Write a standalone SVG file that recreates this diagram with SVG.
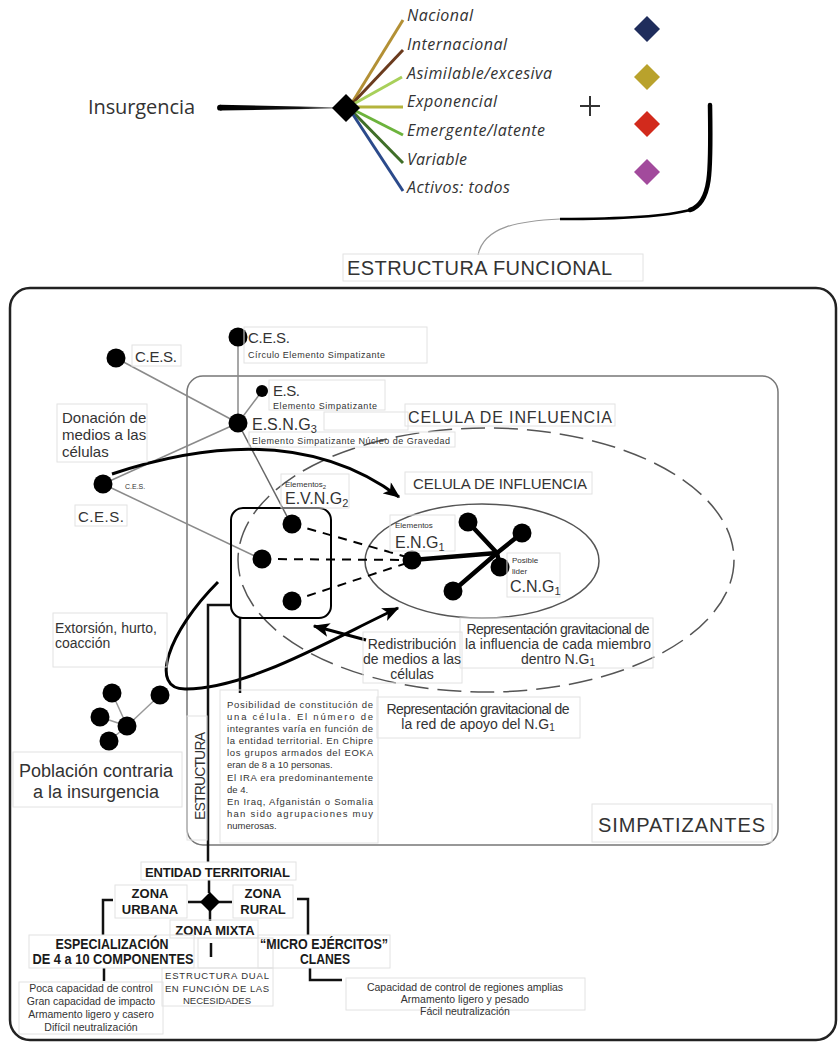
<svg xmlns="http://www.w3.org/2000/svg" width="838" height="1050" viewBox="0 0 838 1050">
<defs>
<style>
.t{font-family:"Liberation Sans",Arial,sans-serif;fill:#333}
.tb{font-family:"Liberation Sans",Arial,sans-serif;font-weight:bold;fill:#1a1a1a}
.it{font-family:"Open Sans","Liberation Sans",sans-serif;font-style:italic;fill:#333;font-size:16px}
.lb{fill:none;stroke:#e2e2e2;stroke-width:1}
.gl{stroke:#8a8a8a;stroke-width:1.5;fill:none}
.bk{stroke:#000;fill:none;stroke-linecap:round}
.br{stroke:#111;stroke-width:2.5;fill:none}
</style>
<marker id="ah" viewBox="0 0 12 10" refX="11" refY="5" markerWidth="17" markerHeight="14" markerUnits="userSpaceOnUse" orient="auto"><path d="M0,0 L12,5 L0,10 L3,5 Z" fill="#000"/></marker>
<linearGradient id="ig" x1="218" y1="0" x2="334" y2="0" gradientUnits="userSpaceOnUse"><stop offset="0" stop-color="#000"/><stop offset="0.7" stop-color="#111"/><stop offset="1" stop-color="#888"/></linearGradient>
</defs>
<rect width="838" height="1050" fill="#fff"/>

<!-- top section -->
<g id="insurgencia">
<text class="t" x="88" y="114" font-family="Open Sans,Liberation Sans,sans-serif" style="font-family:'Open Sans','Liberation Sans',sans-serif" font-size="20" textLength="107">Insurgencia</text>
<polygon points="220,104.8 333,107.2 333,108.4 220,110.6" fill="url(#ig)"/>
<circle cx="220" cy="107.7" r="2.9" fill="#000"/>
</g>
<g id="ramas">
<line x1="350" y1="106" x2="403" y2="20" stroke="#b39035" stroke-width="3"/>
<line x1="350" y1="106" x2="403" y2="50" stroke="#6b3b1e" stroke-width="3"/>
<line x1="350" y1="106" x2="402" y2="77" stroke="#a8d05a" stroke-width="3"/>
<line x1="350" y1="107" x2="403" y2="107" stroke="#b4b43c" stroke-width="3"/>
<line x1="350" y1="108" x2="403" y2="135" stroke="#6cb33c" stroke-width="3"/>
<line x1="350" y1="109" x2="403" y2="163" stroke="#3f6e28" stroke-width="3"/>
<line x1="350" y1="110" x2="403" y2="191" stroke="#2b4a8b" stroke-width="3"/>
<polygon points="346,94 360,108 346,122 332,108" fill="#000"/>
<text class="it" x="407" y="21" textLength="66">Nacional</text>
<text class="it" x="407" y="50" textLength="100">Internacional</text>
<text class="it" x="407" y="79" textLength="145">Asimilable/excesiva</text>
<text class="it" x="407" y="107" textLength="90">Exponencial</text>
<text class="it" x="407" y="136" textLength="138">Emergente/latente</text>
<text class="it" x="407" y="165" textLength="60">Variable</text>
<text class="it" x="407" y="193" textLength="103">Activos: todos</text>
</g>
<g id="mas">
<line x1="580" y1="106" x2="600" y2="106" stroke="#333" stroke-width="2"/>
<line x1="590" y1="96" x2="590" y2="116" stroke="#333" stroke-width="2"/>
</g>
<g id="rombos">
<polygon points="647,16 660,29 647,42 634,29" fill="#1f2d5c"/>
<polygon points="647,64 660,77 647,90 634,77" fill="#b9a22c"/>
<polygon points="647,111 660,124 647,137 634,124" fill="#d22a1c"/>
<polygon points="647,159 660,172 647,185 634,172" fill="#a24a9c"/>
</g>
<g id="llave">
<path d="M710,105 C711,170 712,203 690,210" stroke="#000" stroke-width="4.5" fill="none" stroke-linecap="round"/>
<path d="M690,210 C660,218 600,219 560,219" stroke="#000" stroke-width="2.5" fill="none"/>
<path d="M560,219 C520,221 484,226 478,255" stroke="#999" stroke-width="1.2" fill="none"/>
</g>
<g id="estructura-funcional">
<rect class="lb" x="343" y="254" width="300" height="27"/>
<text class="t" x="347" y="275" font-size="20" textLength="265" fill="#222">ESTRUCTURA FUNCIONAL</text>
</g>

<!-- frames -->
<g id="marco">
<rect x="10" y="288" width="826" height="752" rx="20" fill="none" stroke="#222" stroke-width="2.5"/>
</g>
<g id="simpatizantes">
<rect x="187" y="376" width="591" height="469" rx="16" fill="none" stroke="#777" stroke-width="1.5"/>
<rect class="lb" x="592" y="804" width="180" height="38"/>
<text class="t" x="598" y="832" font-size="20" textLength="167" fill="#222">SIMPATIZANTES</text>
</g>
<g id="celula-externa">
<ellipse cx="486" cy="560" rx="248" ry="132" fill="none" stroke="#555" stroke-width="1.5" stroke-dasharray="24,9"/>
<rect class="lb" x="405" y="404" width="210" height="22"/>
<text class="t" x="408" y="423" font-size="16" textLength="204">CELULA DE INFLUENCIA</text>
</g>
<g id="celula-interna">
<ellipse cx="482" cy="561" rx="117" ry="57" fill="none" stroke="#555" stroke-width="1.5"/>
<rect class="lb" x="405" y="472" width="187" height="22"/>
<text class="t" x="413" y="489" font-size="15" textLength="174">CELULA DE INFLUENCIA</text>
</g>

<!-- connectors -->
<g id="conectores">
<line class="gl" x1="238" y1="337" x2="238" y2="423"/>
<line class="gl" x1="116" y1="358" x2="238" y2="423"/>
<line class="gl" x1="262" y1="391" x2="238" y2="423"/>
<line class="gl" x1="238" y1="423" x2="103" y2="484"/>
<line x1="238" y1="423" x2="291" y2="524" stroke="#666" stroke-width="1.5"/>
<line class="gl" x1="103" y1="484" x2="261" y2="559" stroke="#999"/>
<g stroke="#000" stroke-width="2" stroke-dasharray="9,7" fill="none">
<line x1="292" y1="524" x2="410" y2="558"/>
<line x1="262" y1="559" x2="410" y2="560"/>
<line x1="292" y1="601" x2="410" y2="562"/>
</g>
<g stroke="#000" stroke-width="4.5" stroke-linecap="round">
<line x1="497" y1="553" x2="412" y2="560"/>
<line x1="497" y1="553" x2="468" y2="522"/>
<line x1="497" y1="553" x2="522" y2="533"/>
<line x1="497" y1="553" x2="453" y2="591"/>
<line x1="497" y1="553" x2="500" y2="567"/>
</g>
<path d="M112,474 Q290,415 399,497" stroke="#000" stroke-width="3" fill="none" marker-end="url(#ah)"/>
<path d="M218,582 C168,632 148,690 186,689 C250,688 330,640 398,608" stroke="#000" stroke-width="3" fill="none" marker-end="url(#ah)"/>
<path d="M366,640 L314,626" stroke="#000" stroke-width="3" fill="none" marker-end="url(#ah)"/>
<g stroke="#999" stroke-width="1.5">
<line x1="127" y1="726" x2="112" y2="693"/>
<line x1="127" y1="726" x2="160" y2="695"/>
<line x1="127" y1="726" x2="100" y2="717"/>
<line x1="127" y1="726" x2="109" y2="741"/>
</g>
<polyline class="br" stroke-width="2" points="230,605 208,605 208,862"/>
<line class="br" stroke-width="2" x1="240" y1="618" x2="240" y2="693"/>
<line class="br" x1="209" y1="880" x2="209" y2="893"/>
<line class="br" x1="188" y1="902" x2="232" y2="902"/>
<line class="br" x1="210" y1="910" x2="210" y2="921"/>
<polyline class="br" points="113,900 103,900 103,935"/>
<polyline class="br" points="297,899 308,899 308,935"/>
<line class="br" x1="104" y1="968" x2="104" y2="981"/>
<line class="br" x1="211" y1="943" x2="211" y2="957"/>
<polyline class="br" points="310,968 310,980 342,980"/>
</g>

<!-- nodes -->
<g id="ces-top">
<circle cx="238" cy="337" r="9.5" fill="#000"/>
<rect class="lb" x="244" y="327" width="183" height="36"/>
<text class="t" x="248" y="343" font-size="15" textLength="42">C.E.S.</text>
<text class="t" x="248" y="358" font-size="9" textLength="137" fill="#222">Círculo Elemento Simpatizante</text>
</g>
<g id="ces-left">
<circle cx="116" cy="358" r="9.5" fill="#000"/>
<rect class="lb" x="132" y="345" width="49" height="21"/>
<text class="t" x="135" y="362" font-size="15" textLength="42">C.E.S.</text>
</g>
<g id="es">
<circle cx="262" cy="391" r="6" fill="#000"/>
<rect class="lb" x="269" y="380" width="116" height="30"/>
<text class="t" x="273" y="396" font-size="15" textLength="27">E.S.</text>
<text class="t" x="273" y="409" font-size="9" textLength="104" fill="#222">Elemento Simpatizante</text>
</g>
<g id="esng3">
<circle cx="238" cy="423" r="9.5" fill="#000"/>
<rect class="lb" x="324" y="412" width="84" height="18"/>
<rect class="lb" x="249" y="432" width="206" height="15"/>
<text class="t" x="252" y="430" font-size="16">E.S.N.G<tspan font-size="11" dy="3">3</tspan></text>
<text class="t" x="252" y="444" font-size="9" textLength="198" fill="#222">Elemento Simpatizante Núcleo de Gravedad</text>
</g>
<g id="donacion">
<rect class="lb" x="57" y="404" width="90" height="58"/>
<text class="t" font-size="15"><tspan x="62" y="423">Donación de</tspan><tspan x="62" y="440">medios a las</tspan><tspan x="62" y="457">células</tspan></text>
</g>
<g id="ces-lower">
<circle cx="103" cy="484" r="9.5" fill="#000"/>
<text class="t" x="125" y="489" font-size="7">C.E.S.</text>
<rect class="lb" x="75" y="505" width="52" height="21"/>
<text class="t" x="78" y="522" font-size="15" textLength="46">C.E.S.</text>
</g>
<g id="evng2">
<rect x="231" y="508" width="100" height="110" rx="12" fill="none" stroke="#000" stroke-width="2"/>
<circle cx="292" cy="524" r="9.5" fill="#000"/>
<circle cx="262" cy="559" r="9.5" fill="#000"/>
<circle cx="292" cy="601" r="9.5" fill="#000"/>
<rect class="lb" x="281" y="474" width="68" height="34"/>
<text class="t" x="285" y="487" font-size="8" fill="#222">Elementos<tspan font-size="6" dy="2">2</tspan></text>
<text class="t" x="285" y="504" font-size="16">E.V.N.G<tspan font-size="11" dy="3">2</tspan></text>
</g>
<g id="eng1">
<circle cx="412" cy="560" r="9.5" fill="#000"/>
<rect class="lb" x="390" y="515" width="65" height="36"/>
<text class="t" x="395" y="528" font-size="8" fill="#222">Elementos</text>
<text class="t" x="395" y="548" font-size="16">E.N.G<tspan font-size="11" dy="3">1</tspan></text>
</g>
<g id="estrella">
<circle cx="468" cy="522" r="9.5" fill="#000"/>
<circle cx="522" cy="533" r="9.5" fill="#000"/>
<circle cx="453" cy="591" r="9.5" fill="#000"/>
</g>
<g id="cng1">
<circle cx="500" cy="567" r="9.5" fill="#000"/>
<rect class="lb" x="507" y="553" width="53" height="44"/>
<text class="t" font-size="8" fill="#222"><tspan x="512" y="563">Posible</tspan><tspan x="512" y="574">lider</tspan></text>
<text class="t" x="510" y="592" font-size="16">C.N.G<tspan font-size="11" dy="3">1</tspan></text>
</g>
<g id="rep-influencia">
<rect class="lb" x="460" y="618" width="193" height="50"/>
<text class="t" font-size="14" text-anchor="middle"><tspan x="558" y="634" textLength="183">Representación gravitacional de</tspan><tspan x="558" y="649">la influencia de cada miembro</tspan><tspan x="558" y="664">dentro N.G<tspan font-size="10" dy="2">1</tspan></tspan></text>
</g>
<g id="redistribucion">
<rect class="lb" x="363" y="632" width="99" height="51"/>
<text class="t" font-size="14" text-anchor="middle"><tspan x="412" y="649">Redistribución</tspan><tspan x="412" y="664">de medios a las</tspan><tspan x="412" y="679">células</tspan></text>
</g>
<g id="extorsion">
<rect class="lb" x="53" y="613" width="114" height="54"/>
<text class="t" font-size="14"><tspan x="55" y="633">Extorsión, hurto,</tspan><tspan x="55" y="648">coacción</tspan></text>
</g>
<g id="poblacion">
<circle cx="112" cy="693" r="9.5" fill="#000"/>
<circle cx="160" cy="695" r="9.5" fill="#000"/>
<circle cx="100" cy="717" r="9.5" fill="#000"/>
<circle cx="127" cy="726" r="9.5" fill="#000"/>
<circle cx="109" cy="741" r="9.5" fill="#000"/>
<rect class="lb" x="13" y="752" width="169" height="55"/>
<text class="t" font-size="18" text-anchor="middle" fill="#444"><tspan x="96" y="777">Población contraria</tspan><tspan x="96" y="798">a la insurgencia</tspan></text>
</g>
<g id="estructura">
<rect class="lb" x="187" y="716" width="20" height="124"/>
<text class="t" font-size="14" text-anchor="middle" transform="translate(204.5,776) rotate(-90)" fill="#222" textLength="88">ESTRUCTURA</text>
</g>
<g id="posibilidad">
<rect class="lb" x="220" y="690" width="158" height="153"/>
<g class="t" font-size="9.5" fill="#222">
<text x="227" y="708" textLength="146">Posibilidad de constitución de</text>
<text x="227" y="720" textLength="146">una célula. El número de</text>
<text x="227" y="732" textLength="146">integrantes varía en función de</text>
<text x="227" y="744" textLength="146">la entidad territorial. En Chipre</text>
<text x="227" y="756" textLength="146">los grupos armados del EOKA</text>
<text x="227" y="768">eran de 8 a 10 personas.</text>
<text x="227" y="781" textLength="146">El IRA era predominantemente</text>
<text x="227" y="793">de 4.</text>
<text x="227" y="805" textLength="146">En Iraq, Afganistán o Somalia</text>
<text x="227" y="817" textLength="146">han sido agrupaciones muy</text>
<text x="227" y="829">numerosas.</text>
</g>
</g>
<g id="rep-red">
<rect class="lb" x="377" y="697" width="203" height="41"/>
<text class="t" font-size="14" text-anchor="middle"><tspan x="478" y="714" textLength="183">Representación gravitacional de</tspan><tspan x="478" y="729">la red de apoyo del N.G<tspan font-size="10" dy="2">1</tspan></tspan></text>
</g>

<!-- bottom tree -->
<g id="entidad">
<rect class="lb" x="141" y="862" width="155" height="18"/>
<text class="tb" x="145" y="877" font-size="13" textLength="145">ENTIDAD TERRITORIAL</text>
<polygon points="210,892 220,902 210,912 200,902" fill="#000"/>
</g>
<g id="urbana">
<rect class="lb" x="115" y="885" width="72" height="33"/>
<text class="tb" font-size="13" text-anchor="middle"><tspan x="150" y="898">ZONA</tspan><tspan x="150" y="914">URBANA</tspan></text>
</g>
<g id="rural">
<rect class="lb" x="233" y="885" width="60" height="33"/>
<text class="tb" font-size="13" text-anchor="middle"><tspan x="263" y="898">ZONA</tspan><tspan x="263" y="914">RURAL</tspan></text>
</g>
<g id="mixta">
<rect class="lb" x="170" y="920" width="88" height="18"/>
<text class="tb" x="215" y="935" font-size="13" text-anchor="middle">ZONA MIXTA</text>
<rect class="lb" x="198" y="938" width="75" height="30"/>
</g>
<g id="especializacion">
<rect class="lb" x="29" y="935" width="165" height="33"/>
<text class="tb" font-size="14" text-anchor="middle"><tspan x="112" y="949" textLength="113" lengthAdjust="spacingAndGlyphs">ESPECIALIZACIÓN</tspan><tspan x="113" y="964" textLength="161" lengthAdjust="spacingAndGlyphs">DE 4 a 10 COMPONENTES</tspan></text>
</g>
<g id="micro">
<rect class="lb" x="258" y="935" width="132" height="33"/>
<text class="tb" font-size="14" text-anchor="middle"><tspan x="324" y="949" textLength="128" lengthAdjust="spacingAndGlyphs">“MICRO EJÉRCITOS”</tspan><tspan x="325" y="964" textLength="50" lengthAdjust="spacingAndGlyphs">CLANES</tspan></text>
</g>
<g id="urbana-caract">
<rect class="lb" x="19" y="982" width="144" height="52"/>
<text class="t" font-size="10.5" text-anchor="middle" fill="#222"><tspan x="91" y="992">Poca capacidad de control</tspan><tspan x="91" y="1005">Gran capacidad de impacto</tspan><tspan x="91" y="1018">Armamento ligero y casero</tspan><tspan x="91" y="1031">Difícil neutralización</tspan></text>
</g>
<g id="dual">
<rect class="lb" x="162" y="968" width="111" height="38"/>
<text class="t" font-size="9.5" fill="#222"><tspan x="165" y="979" textLength="104">ESTRUCTURA DUAL</tspan><tspan x="165" y="992" textLength="104">EN FUNCIÓN DE LAS</tspan><tspan x="217" y="1004" text-anchor="middle">NECESIDADES</tspan></text>
</g>
<g id="rural-caract">
<rect class="lb" x="346" y="978" width="239" height="32"/>
<text class="t" font-size="10.5" text-anchor="middle" fill="#222"><tspan x="465" y="991">Capacidad de control de regiones amplias</tspan><tspan x="465" y="1003">Armamento ligero y pesado</tspan><tspan x="465" y="1015">Fácil neutralización</tspan></text>
</g>
</svg>
